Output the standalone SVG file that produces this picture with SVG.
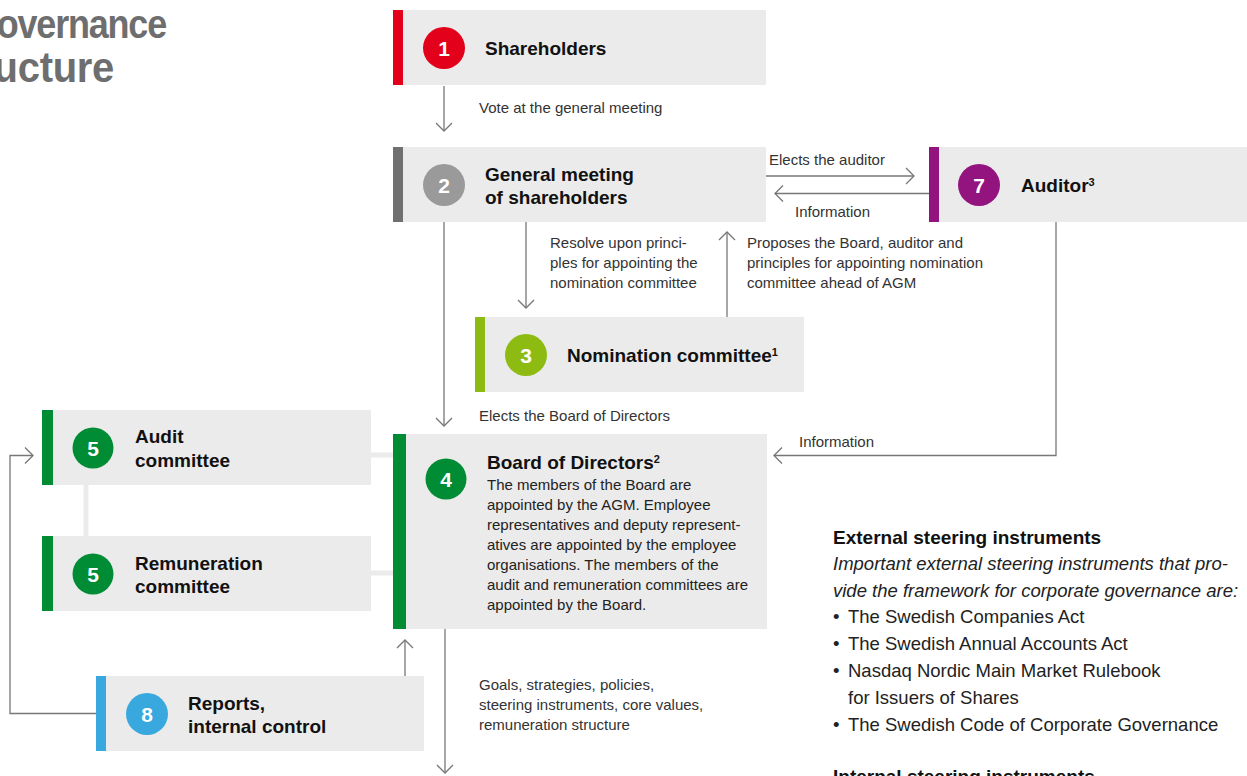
<svg xmlns="http://www.w3.org/2000/svg" width="1247" height="776" viewBox="0 0 1247 776">
<defs>
<style>
.box{fill:#ebebeb}
.ttl{font-family:"Liberation Sans",Arial,sans-serif;font-weight:bold;font-size:19px;fill:#111}
.num{font-family:"Liberation Sans",Arial,sans-serif;font-weight:bold;font-size:21px;fill:#fff;text-anchor:middle}
.lbl{font-family:"Liberation Sans",Arial,sans-serif;font-size:15px;fill:#333}
.body{font-family:"Liberation Sans",Arial,sans-serif;font-size:15px;fill:#222}
.ext{font-family:"Liberation Sans",Arial,sans-serif;font-size:18.5px;fill:#222}
.exth{font-family:"Liberation Sans",Arial,sans-serif;font-size:19px;font-weight:bold;fill:#111}
.big{font-family:"Liberation Sans",Arial,sans-serif;font-weight:bold;fill:#6e6e6e;text-anchor:end}
.ln{fill:none;stroke:#777;stroke-width:1.3}
.ln2{fill:none;stroke:#ebebeb;stroke-width:5}
</style>
<marker id="ah" viewBox="-10 -10 20 20" refX="0" refY="0" markerWidth="20" markerHeight="20" markerUnits="userSpaceOnUse" orient="auto">
<path d="M-8,-8 L0,0 L-8,8" fill="none" stroke="#777" stroke-width="1.3"/>
</marker>
</defs>
<rect width="1247" height="776" fill="#fff"/>

<g id="title">
<text class="big" transform="translate(166,38) scale(1,1.15)" x="0" y="0" style="font-size:36px;letter-spacing:-1.2px">Governance</text>
<text class="big" transform="translate(114,82) scale(1,1.06)" x="0" y="0" style="font-size:40px;letter-spacing:-0.3px">structure</text>
</g>

<g id="connectors">
<line class="ln" x1="444" y1="86" x2="444" y2="131" marker-end="url(#ah)"/>
<line class="ln" x1="766" y1="176" x2="914" y2="176" marker-end="url(#ah)"/>
<line class="ln" x1="929" y1="193.5" x2="775" y2="193.5" marker-end="url(#ah)"/>
<polyline class="ln" points="1056,222 1056,455.5 774,455.5" marker-end="url(#ah)"/>
<line class="ln" x1="444" y1="222" x2="444" y2="426" marker-end="url(#ah)"/>
<line class="ln" x1="526" y1="222" x2="526" y2="308" marker-end="url(#ah)"/>
<line class="ln" x1="727" y1="317" x2="727" y2="232" marker-end="url(#ah)"/>
<line class="ln" x1="405" y1="676" x2="405" y2="640" marker-end="url(#ah)"/>
<line class="ln" x1="445" y1="629" x2="445" y2="773" marker-end="url(#ah)"/>
<polyline class="ln" points="96,713.5 10,713.5 10,455.5 33,455.5" marker-end="url(#ah)"/>
<line class="ln2" x1="86" y1="485" x2="86" y2="536"/>
<line class="ln2" x1="371" y1="455" x2="393" y2="455"/>
<line class="ln2" x1="371" y1="573" x2="393" y2="573"/>
<text class="lbl" x="479" y="113">Vote at the general meeting</text>
<text class="lbl" x="769" y="165">Elects the auditor</text>
<text class="lbl" x="795" y="217">Information</text>
<text class="lbl" x="550" y="248">Resolve upon princi-</text>
<text class="lbl" x="550" y="268">ples for appointing the</text>
<text class="lbl" x="550" y="288">nomination committee</text>
<text class="lbl" x="747" y="248">Proposes the Board, auditor and</text>
<text class="lbl" x="747" y="268">principles for appointing nomination</text>
<text class="lbl" x="747" y="288">committee ahead of AGM</text>
<text class="lbl" x="479" y="421">Elects the Board of Directors</text>
<text class="lbl" x="799" y="447">Information</text>
<text class="lbl" x="479" y="690">Goals, strategies, policies,</text>
<text class="lbl" x="479" y="710">steering instruments, core values,</text>
<text class="lbl" x="479" y="730">remuneration structure</text>
</g>

<g id="n1">
<rect class="box" x="393" y="10" width="373" height="75"/>
<rect x="393" y="10" width="10" height="75" fill="#e2001a"/>
<circle cx="444" cy="48" r="21" fill="#e2001a"/>
<text class="num" x="444" y="56">1</text>
<text class="ttl" x="485" y="55">Shareholders</text>
</g>

<g id="n2">
<rect class="box" x="393" y="147" width="373" height="75"/>
<rect x="393" y="147" width="10" height="75" fill="#707070"/>
<circle cx="444" cy="185" r="21" fill="#9a9a9a"/>
<text class="num" x="444" y="193">2</text>
<text class="ttl" x="485" y="181">General meeting</text>
<text class="ttl" x="485" y="204">of shareholders</text>
</g>

<g id="n7">
<rect class="box" x="929" y="147" width="318" height="75"/>
<rect x="929" y="147" width="10" height="75" fill="#93137f"/>
<circle cx="979" cy="185" r="21" fill="#93137f"/>
<text class="num" x="979" y="193">7</text>
<text class="ttl" x="1021" y="192">Auditor<tspan font-size="11" dy="-6">3</tspan></text>
</g>

<g id="n3">
<rect class="box" x="475" y="317" width="329" height="75"/>
<rect x="475" y="317" width="10" height="75" fill="#8dbb12"/>
<circle cx="526" cy="355" r="21" fill="#8dbb12"/>
<text class="num" x="526" y="363">3</text>
<text class="ttl" x="567" y="362">Nomination committee<tspan font-size="11" dy="-6">1</tspan></text>
</g>

<g id="n4">
<rect class="box" x="393" y="434" width="374" height="195"/>
<rect x="393" y="434" width="13" height="195" fill="#008c35"/>
<circle cx="446" cy="479" r="20.5" fill="#008c35"/>
<text class="num" x="446" y="487">4</text>
<text class="ttl" x="487" y="469">Board of Directors<tspan font-size="11" dy="-6">2</tspan></text>
<text class="body" x="487" y="490">The members of the Board are</text>
<text class="body" x="487" y="510">appointed by the AGM. Employee</text>
<text class="body" x="487" y="530">representatives and deputy represent-</text>
<text class="body" x="487" y="550">atives are appointed by the employee</text>
<text class="body" x="487" y="570">organisations. The members of the</text>
<text class="body" x="487" y="590">audit and remuneration committees are</text>
<text class="body" x="487" y="610">appointed by the Board.</text>
</g>

<g id="n5a">
<rect class="box" x="42" y="410" width="329" height="75"/>
<rect x="42" y="410" width="11" height="75" fill="#008c35"/>
<circle cx="93" cy="448" r="20.5" fill="#008c35"/>
<text class="num" x="93" y="456">5</text>
<text class="ttl" x="135" y="443">Audit</text>
<text class="ttl" x="135" y="467">committee</text>
</g>

<g id="n5b">
<rect class="box" x="42" y="536" width="329" height="75"/>
<rect x="42" y="536" width="11" height="75" fill="#008c35"/>
<circle cx="93" cy="574" r="20.5" fill="#008c35"/>
<text class="num" x="93" y="582">5</text>
<text class="ttl" x="135" y="570">Remuneration</text>
<text class="ttl" x="135" y="593">committee</text>
</g>

<g id="n8">
<rect class="box" x="96" y="676" width="328" height="75"/>
<rect x="96" y="676" width="10" height="75" fill="#38a8de"/>
<circle cx="147" cy="714" r="21" fill="#38a8de"/>
<text class="num" x="147" y="722">8</text>
<text class="ttl" x="188" y="710">Reports,</text>
<text class="ttl" x="188" y="733">internal control</text>
</g>

<g id="external">
<text class="exth" x="833" y="544">External steering instruments</text>
<text class="ext" x="833" y="570" font-style="italic">Important external steering instruments that pro-</text>
<text class="ext" x="833" y="597" font-style="italic">vide the framework for corporate governance are:</text>
<text class="ext" x="833" y="623">•</text><text class="ext" x="848" y="623">The Swedish Companies Act</text>
<text class="ext" x="833" y="650">•</text><text class="ext" x="848" y="650">The Swedish Annual Accounts Act</text>
<text class="ext" x="833" y="677">•</text><text class="ext" x="848" y="677">Nasdaq Nordic Main Market Rulebook</text>
<text class="ext" x="848" y="704">for Issuers of Shares</text>
<text class="ext" x="833" y="731">•</text><text class="ext" x="848" y="731">The Swedish Code of Corporate Governance</text>
<text class="exth" x="833" y="783">Internal steering instruments</text>
</g>
</svg>
